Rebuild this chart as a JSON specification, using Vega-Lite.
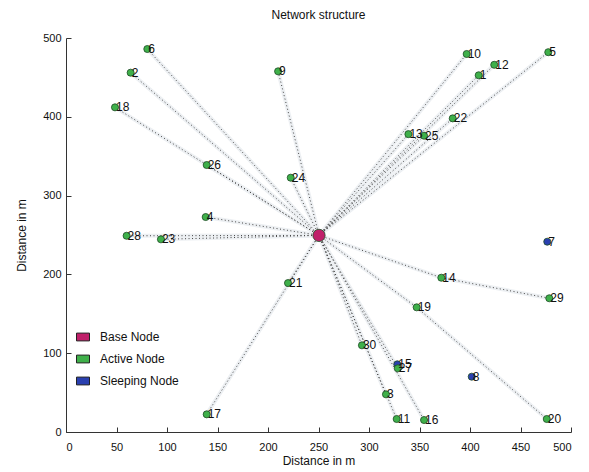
{
  "$schema": "https://vega.github.io/schema/vega-lite/v6.json",
  "width": 505,
  "height": 394,
  "autosize": {"type": "none"},
  "padding": {"left": 66, "top": 38, "right": 18, "bottom": 40},
  "background": "white",
  "title": {"text": "Network structure", "fontSize": 12, "fontWeight": "normal", "font": "Liberation Sans", "color": "#111", "offset": 10},
  "config": {
    "view": {"stroke": null},
    "axis": {
      "domainColor": "#333", "tickColor": "#333", "tickSize": -5,
      "labelFont": "Liberation Sans", "labelFontSize": 11, "labelColor": "#111",
      "titleFont": "Liberation Sans", "titleFontSize": 12, "titleFontWeight": "normal", "titleColor": "#111",
      "grid": false
    }
  },
  "datasets": {
    "nodes": [
      {"id": "1", "x": 408.6, "y": 452.7, "type": "Active Node"},
      {"id": "2", "x": 64, "y": 456, "type": "Active Node"},
      {"id": "3", "x": 316.8, "y": 47.8, "type": "Active Node"},
      {"id": "4", "x": 138.3, "y": 272.8, "type": "Active Node"},
      {"id": "5", "x": 477.5, "y": 482, "type": "Active Node"},
      {"id": "6", "x": 80.5, "y": 486, "type": "Active Node"},
      {"id": "9", "x": 210, "y": 457.7, "type": "Active Node"},
      {"id": "10", "x": 396.7, "y": 479.7, "type": "Active Node"},
      {"id": "11", "x": 327.4, "y": 16.5, "type": "Active Node"},
      {"id": "12", "x": 424, "y": 466, "type": "Active Node"},
      {"id": "13", "x": 339, "y": 378, "type": "Active Node"},
      {"id": "14", "x": 371.6, "y": 195.8, "type": "Active Node"},
      {"id": "16", "x": 354.5, "y": 15.2, "type": "Active Node"},
      {"id": "17", "x": 139.3, "y": 22.4, "type": "Active Node"},
      {"id": "18", "x": 48.5, "y": 412, "type": "Active Node"},
      {"id": "19", "x": 347.2, "y": 158.2, "type": "Active Node"},
      {"id": "20", "x": 476, "y": 16.5, "type": "Active Node"},
      {"id": "21", "x": 219.8, "y": 189, "type": "Active Node"},
      {"id": "22", "x": 382.9, "y": 398, "type": "Active Node"},
      {"id": "23", "x": 94, "y": 244.5, "type": "Active Node"},
      {"id": "24", "x": 222.5, "y": 322.7, "type": "Active Node"},
      {"id": "25", "x": 354.5, "y": 376, "type": "Active Node"},
      {"id": "26", "x": 139.3, "y": 338.8, "type": "Active Node"},
      {"id": "28", "x": 60, "y": 249, "type": "Active Node"},
      {"id": "29", "x": 478.5, "y": 169.7, "type": "Active Node"},
      {"id": "30", "x": 293, "y": 110, "type": "Active Node"},
      {"id": "7", "x": 476.5, "y": 241.5, "type": "Sleeping Node"},
      {"id": "8", "x": 401.7, "y": 70.2, "type": "Sleeping Node"},
      {"id": "15", "x": 328, "y": 85.9, "type": "Sleeping Node"},
      {"id": "27", "x": 328.5, "y": 80.8, "type": "Active Node"},
      {"id": "", "x": 250.5, "y": 249.5, "type": "Base Node"}
    ],
    "links": [
      {"x": 250.5, "y": 249.5, "x2": 408.6, "y2": 452.7},
      {"x": 250.5, "y": 249.5, "x2": 64, "y2": 456},
      {"x": 250.5, "y": 249.5, "x2": 316.8, "y2": 47.8},
      {"x": 250.5, "y": 249.5, "x2": 138.3, "y2": 272.8},
      {"x": 250.5, "y": 249.5, "x2": 477.5, "y2": 482},
      {"x": 250.5, "y": 249.5, "x2": 80.5, "y2": 486},
      {"x": 250.5, "y": 249.5, "x2": 210, "y2": 457.7},
      {"x": 250.5, "y": 249.5, "x2": 396.7, "y2": 479.7},
      {"x": 250.5, "y": 249.5, "x2": 327.4, "y2": 16.5},
      {"x": 250.5, "y": 249.5, "x2": 424, "y2": 466},
      {"x": 250.5, "y": 249.5, "x2": 339, "y2": 378},
      {"x": 250.5, "y": 249.5, "x2": 371.6, "y2": 195.8},
      {"x": 250.5, "y": 249.5, "x2": 354.5, "y2": 15.2},
      {"x": 250.5, "y": 249.5, "x2": 139.3, "y2": 22.4},
      {"x": 250.5, "y": 249.5, "x2": 48.5, "y2": 412},
      {"x": 250.5, "y": 249.5, "x2": 347.2, "y2": 158.2},
      {"x": 347.2, "y": 158.2, "x2": 476, "y2": 16.5},
      {"x": 250.5, "y": 249.5, "x2": 219.8, "y2": 189},
      {"x": 250.5, "y": 249.5, "x2": 382.9, "y2": 398},
      {"x": 250.5, "y": 249.5, "x2": 94, "y2": 244.5},
      {"x": 250.5, "y": 249.5, "x2": 222.5, "y2": 322.7},
      {"x": 250.5, "y": 249.5, "x2": 354.5, "y2": 376},
      {"x": 250.5, "y": 249.5, "x2": 139.3, "y2": 338.8},
      {"x": 250.5, "y": 249.5, "x2": 60, "y2": 249},
      {"x": 371.6, "y": 195.8, "x2": 478.5, "y2": 169.7},
      {"x": 250.5, "y": 249.5, "x2": 293, "y2": 110},
      {"x": 250.5, "y": 249.5, "x2": 328.5, "y2": 80.8}
    ]
  },
  "layer": [
    {
      "data": {"name": "links"},
      "mark": {"type": "rule", "color": "#edf0f3", "strokeWidth": 4},
      "encoding": {
        "x": {"field": "x", "type": "quantitative", "scale": {"domain": [0, 500], "nice": false},
              "axis": {"values": [0, 50, 100, 150, 200, 250, 300, 350, 400, 450, 500], "title": "Distance in m", "titlePadding": 3, "labelPadding": 14}},
        "y": {"field": "y", "type": "quantitative", "scale": {"domain": [0, 500], "nice": false},
              "axis": {"values": [0, 50, 100, 150, 200, 250, 300, 350, 400, 450, 500], "title": "Distance in m", "titlePadding": 14, "labelPadding": 10}},
        "x2": {"field": "x2"},
        "y2": {"field": "y2"}
      }
    },
    {
      "data": {"name": "links"},
      "mark": {"type": "rule", "color": "#444", "strokeWidth": 1, "strokeDash": [1, 2.5]},
      "encoding": {
        "x": {"field": "x", "type": "quantitative"},
        "y": {"field": "y", "type": "quantitative"},
        "x2": {"field": "x2"},
        "y2": {"field": "y2"}
      }
    },
    {
      "data": {"name": "nodes"},
      "mark": {"type": "point", "shape": "circle", "filled": true, "opacity": 1, "stroke": "#1c4a25", "strokeWidth": 0.8},
      "encoding": {
        "x": {"field": "x", "type": "quantitative"},
        "y": {"field": "y", "type": "quantitative"},
        "color": {
          "field": "type", "type": "nominal",
          "scale": {"domain": ["Base Node", "Active Node", "Sleeping Node"], "range": ["#c0206a", "#3fb04a", "#2a40b0"]},
          "legend": {
            "title": null, "orient": "none", "legendX": 10, "legendY": 292,
            "symbolType": "M-1,-0.6H1V0.6H-1Z", "symbolSize": 169, "symbolStrokeColor": "#222", "symbolStrokeWidth": 1,
            "labelFont": "Liberation Sans", "labelFontSize": 12, "labelColor": "#111", "labelOffset": 10, "rowPadding": 9
          }
        },
        "size": {"condition": {"test": "datum.type === 'Base Node'", "value": 150}, "value": 50}
      }
    },
    {
      "data": {"name": "nodes"},
      "mark": {"type": "text", "align": "left", "baseline": "middle", "dx": 1, "font": "Liberation Sans", "fontSize": 12, "color": "#111"},
      "encoding": {
        "x": {"field": "x", "type": "quantitative"},
        "y": {"field": "y", "type": "quantitative"},
        "text": {"field": "id"}
      }
    }
  ]
}
